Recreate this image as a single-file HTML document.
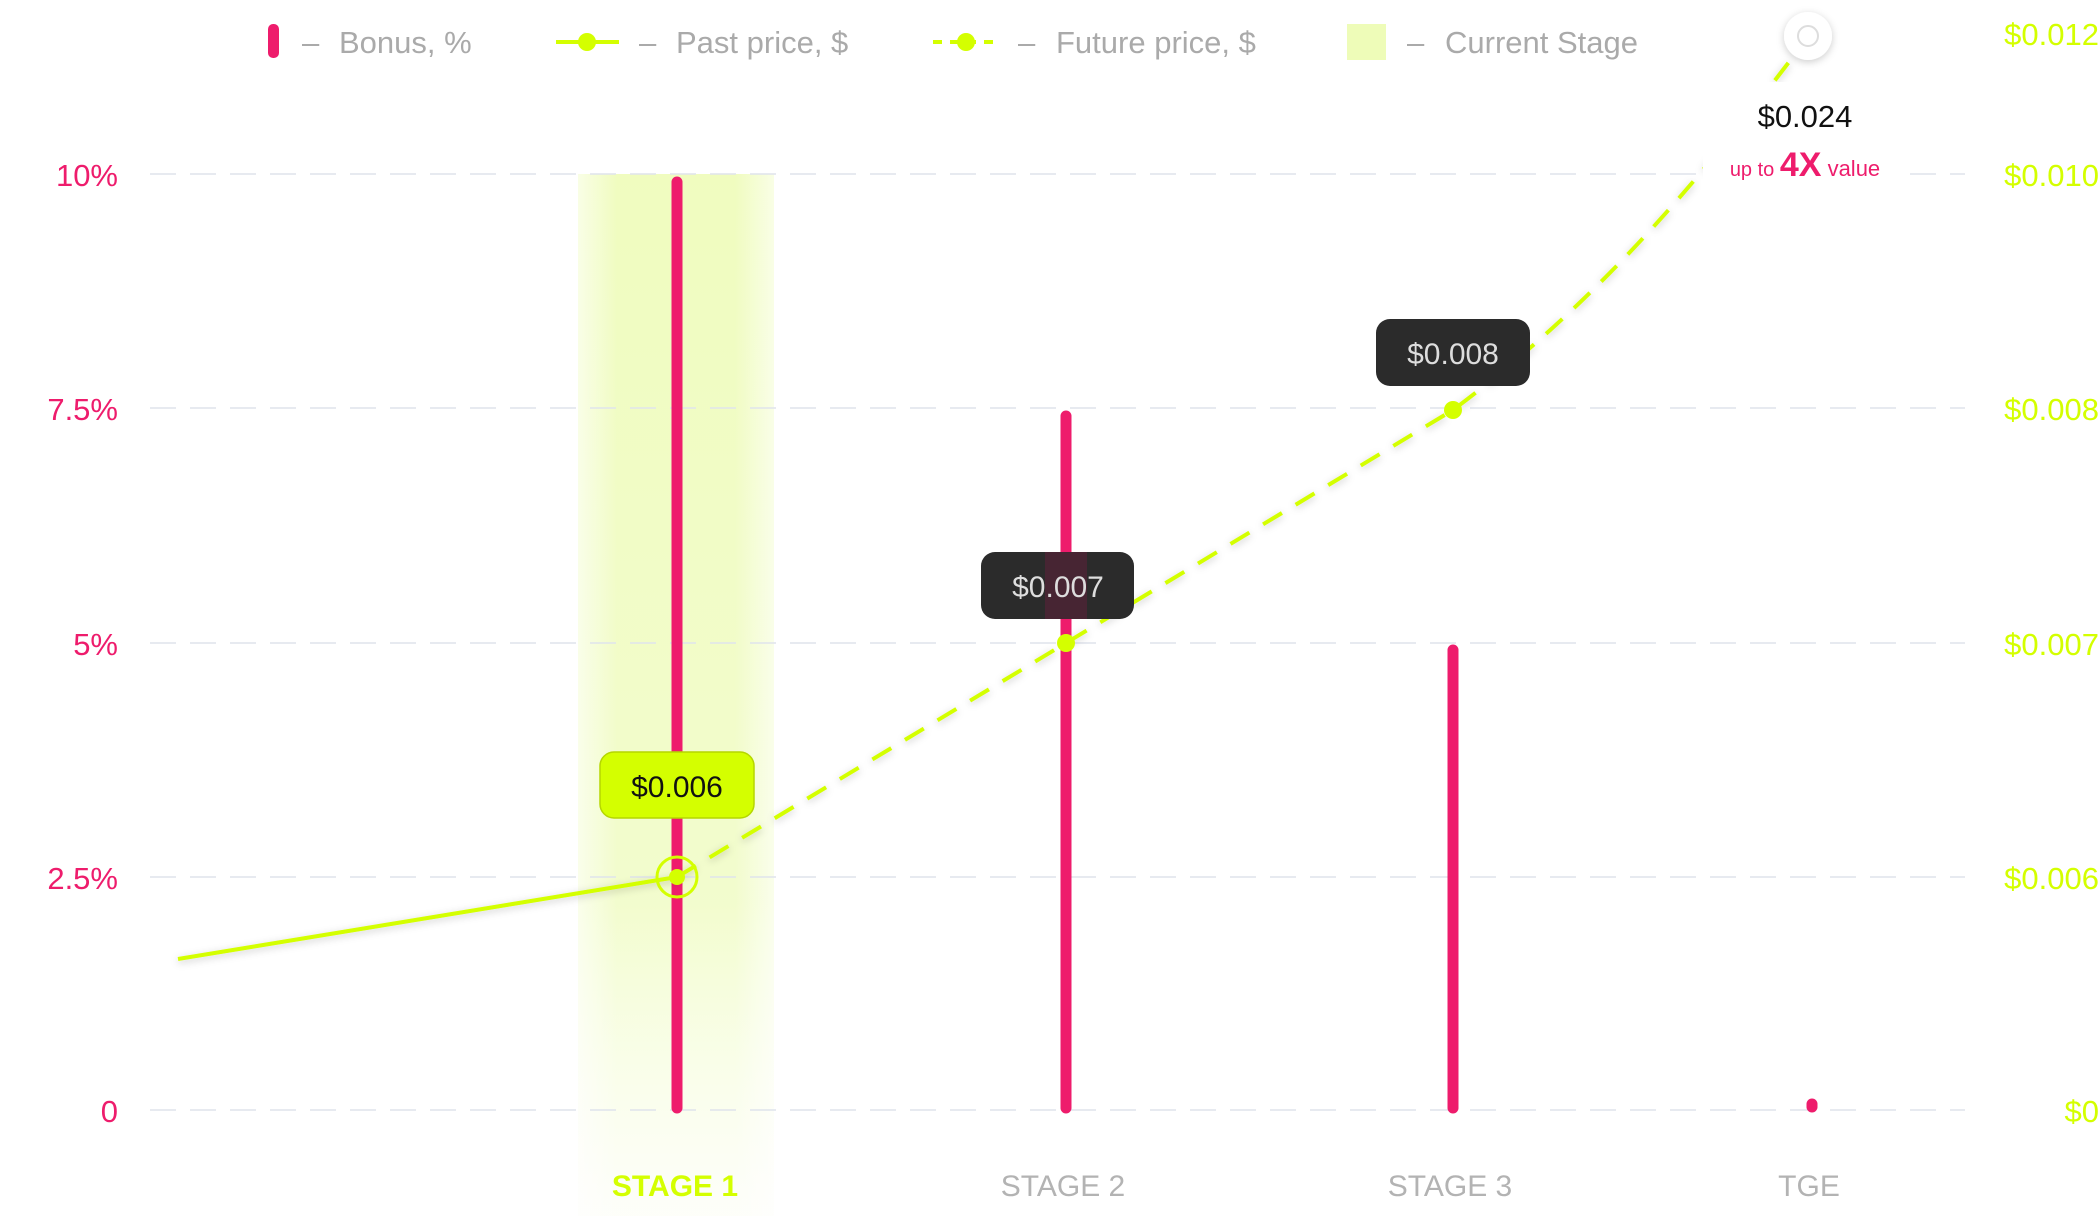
<!DOCTYPE html>
<html><head><meta charset="utf-8"><style>
html,body{margin:0;padding:0;background:#fff;}
svg{display:block;font-family:"Liberation Sans",sans-serif;}
</style></head><body>
<svg width="2099" height="1216" viewBox="0 0 2099 1216" xmlns="http://www.w3.org/2000/svg">
<defs>
<linearGradient id="band" x1="0" y1="0" x2="0" y2="1">
<stop offset="0" stop-color="#eefcb8" stop-opacity="0.9"/>
<stop offset="0.7" stop-color="#f1fcc8" stop-opacity="0.9"/>
<stop offset="1" stop-color="#f7fde2" stop-opacity="0.2"/>
</linearGradient>
<linearGradient id="bandh" x1="0" y1="0" x2="1" y2="0">
<stop offset="0" stop-color="#fff" stop-opacity="0.6"/>
<stop offset="0.2" stop-color="#fff" stop-opacity="0"/>
<stop offset="0.8" stop-color="#fff" stop-opacity="0"/>
<stop offset="1" stop-color="#fff" stop-opacity="0.6"/>
</linearGradient>
<filter id="sh" x="-50%" y="-50%" width="200%" height="200%"><feDropShadow dx="0" dy="2" stdDeviation="4" flood-color="#000" flood-opacity="0.2"/></filter>
</defs>
<!-- band -->
<rect x="578" y="174" width="196" height="1042" fill="url(#band)"/>
<rect x="578" y="174" width="196" height="1042" fill="url(#bandh)"/>
<!-- gridlines -->
<g stroke="#dfe3ec" stroke-width="1.5" stroke-dasharray="26 14">
<line x1="150" y1="174" x2="1965" y2="174"/>
<line x1="150" y1="408" x2="1965" y2="408"/>
<line x1="150" y1="643" x2="1965" y2="643"/>
<line x1="150" y1="877" x2="1965" y2="877"/>
<line x1="150" y1="1110" x2="1965" y2="1110"/>
</g>
<!-- left labels -->
<g fill="#ee1c6c" font-size="31" text-anchor="end">
<text x="118" y="186">10%</text>
<text x="118" y="420">7.5%</text>
<text x="118" y="655">5%</text>
<text x="118" y="889">2.5%</text>
<text x="118" y="1122">0</text>
</g>
<!-- right labels -->
<g fill="#d4ff00" font-size="31" text-anchor="end">
<text x="2099" y="45">$0.012</text>
<text x="2099" y="186">$0.010</text>
<text x="2099" y="420">$0.008</text>
<text x="2099" y="655">$0.007</text>
<text x="2099" y="889">$0.006</text>
<text x="2099" y="1122">$0</text>
</g>
<!-- bars -->
<g stroke="#ee1c6c" stroke-width="11" stroke-linecap="round">
<line x1="677" y1="182" x2="677" y2="1108"/>
<line x1="1066" y1="416" x2="1066" y2="1108"/>
<line x1="1453" y1="650" x2="1453" y2="1108"/>
<line x1="1812" y1="1104" x2="1812" y2="1107"/>
</g>
<!-- past line -->
<line x1="178" y1="959" x2="677" y2="877" stroke="#d4ff00" stroke-width="4" filter="url(#sh)"/>
<!-- future dashed -->
<path d="M677 877 L1066 643 L1453 410 C1600 300 1700 180 1808 37" fill="none" stroke="#d4ff00" stroke-width="4" stroke-dasharray="22 16" filter="url(#sh)"/>
<!-- points -->
<circle cx="677" cy="877" r="20" fill="none" stroke="#d4ff00" stroke-width="3"/>
<circle cx="677" cy="877" r="8" fill="#d4ff00"/>
<circle cx="1066" cy="643" r="9" fill="#d4ff00"/>
<circle cx="1453" cy="410" r="9" fill="#d4ff00"/>
<!-- top circle -->
<circle cx="1808" cy="36" r="24" fill="#fff" filter="url(#sh)"/>
<circle cx="1808" cy="36" r="10" fill="#fff" stroke="#ddd" stroke-width="2"/>
<!-- tooltips -->
<rect x="600" y="752" width="154" height="66" rx="14" fill="#d4ff00" stroke="#b5d600" stroke-width="1.5"/>
<text x="677" y="797" text-anchor="middle" font-size="30" fill="#111">$0.006</text>
<rect x="981" y="552" width="153" height="67" rx="14" fill="#2b2b2b"/>
<rect x="1045" y="552" width="42" height="67" fill="#5a2238" opacity="0.6"/>
<text x="1058" y="597" text-anchor="middle" font-size="30" fill="#ddd">$0.007</text>
<rect x="1376" y="319" width="154" height="67" rx="14" fill="#2b2b2b"/>
<text x="1453" y="364" text-anchor="middle" font-size="30" fill="#ddd">$0.008</text>
<rect x="1703" y="82" width="204" height="118" rx="22" fill="#fff"/>
<text x="1805" y="127" text-anchor="middle" font-size="31" fill="#111">$0.024</text>
<text x="1805" y="176" text-anchor="middle" fill="#ee1c6c"><tspan font-size="20">up to </tspan><tspan font-size="34" font-weight="bold">4X</tspan><tspan font-size="22"> value</tspan></text>
<!-- x labels -->
<g font-size="30" text-anchor="middle" fill="#b3b3b3">
<text x="675" y="1196" fill="#d4ff00" font-weight="bold">STAGE 1</text>
<text x="1063" y="1196">STAGE 2</text>
<text x="1450" y="1196">STAGE 3</text>
<text x="1809" y="1196">TGE</text>
</g>
<!-- legend -->
<rect x="268" y="24" width="11" height="34" rx="5" fill="#ee1c6c"/>
<line x1="556" y1="42" x2="619" y2="42" stroke="#d4ff00" stroke-width="4"/>
<circle cx="587" cy="42" r="9" fill="#d4ff00"/>
<line x1="933" y1="42" x2="998" y2="42" stroke="#d4ff00" stroke-width="4" stroke-dasharray="9 8"/>
<circle cx="966" cy="42" r="9" fill="#d4ff00"/>
<rect x="1347" y="24" width="39" height="36" fill="#eefcb8"/>
<g font-size="31" fill="#aaa">
<text x="302" y="53">–</text><text x="339" y="53">Bonus, %</text>
<text x="639" y="53">–</text><text x="676" y="53">Past price, $</text>
<text x="1018" y="53">–</text><text x="1056" y="53">Future price, $</text>
<text x="1407" y="53">–</text><text x="1445" y="53">Current Stage</text>
</g>
</svg>
</body></html>
